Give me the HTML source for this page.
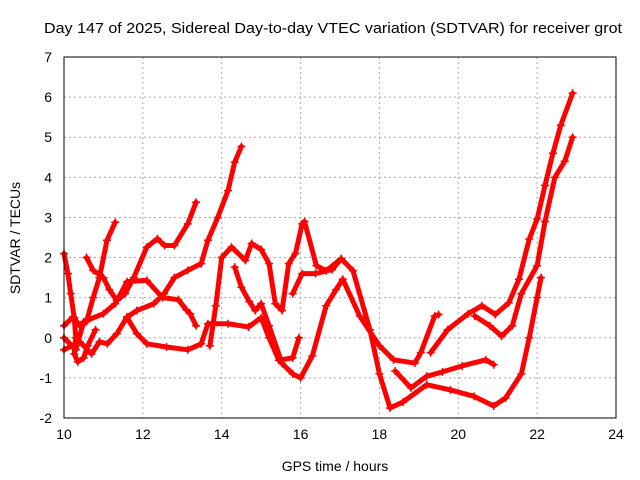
<!DOCTYPE html>
<html><head><meta charset="utf-8"><style>
html,body{margin:0;padding:0;background:#fff;}
svg{display:block;font-family:"Liberation Sans",sans-serif;}
</style></head><body>
<svg id="chart" width="640" height="480" viewBox="0 0 640 480">
<rect width="640" height="480" fill="#fff"/>
<text x="44" y="33" font-size="15" textLength="578" lengthAdjust="spacingAndGlyphs">Day 147 of 2025, Sidereal Day-to-day VTEC variation (SDTVAR) for receiver grot</text>
<text x="335" y="471" font-size="14" text-anchor="middle">GPS time / hours</text>
<text transform="translate(20,238) rotate(-90)" font-size="14" text-anchor="middle">SDTVAR / TECUs</text>
<g id="grid"></g><g id="ticks"></g><g id="series"></g>
<rect x="64" y="57" width="552" height="361" fill="none" stroke="#000" stroke-width="1"/>
</svg>
<script>
const xTicks=[10,12,14,16,18,20,22,24];
const yTicks=[-2,-1,0,1,2,3,4,5,6,7];
const s1=[[10.0,2.1],[10.1,1.6],[10.17,1.1],[10.26,0.5],[10.3,0.0],[10.26,-0.4],[10.35,-0.6],[10.5,-0.5],[10.6,-0.2],[10.8,0.2]];
const s2=[[10.0,0.3],[10.23,0.52],[10.4,0.3],[10.57,0.4],[10.74,1.0],[10.9,1.5],[11.09,2.43],[11.3,2.88]];
const s3=[[10.57,2.0],[10.74,1.68],[11.0,1.5],[11.15,1.2],[11.34,0.93],[11.55,1.1],[11.77,1.5],[12.1,2.26],[12.37,2.47],[12.55,2.3],[12.8,2.3],[13.14,2.84],[13.35,3.38]];
const s4=[[10.0,0.0],[10.3,-0.3],[10.5,0.4],[11.0,0.6],[11.3,0.85],[11.6,1.4],[12.1,1.43],[12.5,1.0],[12.9,0.95],[13.1,0.7],[13.2,0.6],[13.35,0.3]];
const s5=[[10.0,-0.3],[10.4,-0.1],[10.7,-0.4],[10.9,-0.1],[11.1,-0.15],[11.34,0.1],[11.6,0.52],[11.85,0.68],[12.28,0.85],[12.54,1.1],[12.8,1.5],[13.14,1.68],[13.48,1.85],[13.65,2.43],[13.9,3.0],[14.16,3.67],[14.33,4.38],[14.5,4.77]];
const s6=[[11.6,0.5],[11.85,0.1],[12.1,-0.15],[12.6,-0.23],[13.14,-0.3],[13.48,-0.15],[13.65,0.35],[14.16,0.35],[14.68,0.27],[15.0,0.5],[15.2,0.0],[15.45,-0.56],[15.8,-0.5],[15.96,0.0]];
const s7=[[13.7,-0.2],[13.85,0.8],[14.0,2.0],[14.25,2.26],[14.6,1.93],[14.76,2.35],[15.0,2.2],[15.2,1.85],[15.36,0.85],[15.53,0.68],[15.7,1.85],[15.87,2.1],[16.04,2.84],[16.1,2.9],[16.4,1.8],[16.65,1.67],[17.03,1.97],[17.33,1.67],[17.76,0.2],[18.0,-0.9],[18.27,-1.75],[18.6,-1.6],[19.2,-1.17],[19.8,-1.3],[20.4,-1.46],[20.9,-1.7],[21.2,-1.5],[21.6,-0.9],[21.8,0.0],[22.0,1.0],[22.1,1.5]];
const s8=[[14.33,1.76],[14.5,1.26],[14.7,0.9],[14.85,0.68],[15.0,0.85],[15.2,0.3],[15.53,-0.64],[15.8,-0.9],[16.0,-1.0],[16.3,-0.45],[16.65,0.8],[16.9,1.2],[17.07,1.46],[17.5,0.54],[18.0,-0.2],[18.36,-0.55],[18.9,-0.63],[19.05,-0.37],[19.4,0.54],[19.5,0.58]];
const s9=[[18.4,-0.83],[18.8,-1.25],[19.2,-0.96],[19.6,-0.85],[20.1,-0.7],[20.7,-0.55],[20.9,-0.67]];
const s10=[[19.3,-0.37],[19.73,0.2],[20.25,0.6],[20.6,0.8],[20.94,0.58],[21.28,0.87],[21.54,1.46],[21.8,2.46],[22.0,2.96],[22.2,3.8],[22.4,4.6],[22.6,5.3],[22.9,6.1]];
const s11=[[20.42,0.54],[20.8,0.3],[21.1,0.04],[21.37,0.3],[21.6,1.1],[22.0,1.8],[22.2,2.9],[22.45,4.0],[22.7,4.4],[22.9,5.0]];
const s12=[[15.8,1.1],[16.04,1.6],[16.38,1.6],[16.8,1.7],[17.03,1.97]];
const allSeries=[s1,s2,s3,s4,s5,s6,s7,s8,s9,s10,s11,s12];
const X=h=>64+(h-10)*552/14, Y=v=>418-(v+2)*361/9;
const NS='http://www.w3.org/2000/svg';
function mk(t,a,p){const e=document.createElementNS(NS,t);for(const k in a)e.setAttribute(k,a[k]);p.appendChild(e);return e;}
const grid=document.getElementById('grid'),ticks=document.getElementById('ticks'),ser=document.getElementById('series');
xTicks.forEach(t=>{
 const g=mk('line',{x1:X(t),x2:X(t),y1:57,y2:418,stroke:'#aaa','stroke-dasharray':'2,3'},grid);
 
 
 const l=mk('text',{x:X(t),y:439,'font-size':14,'text-anchor':'middle'},ticks);l.textContent=t;
 
 
});
yTicks.forEach(t=>{
 const g=mk('line',{x1:64,x2:616,y1:Y(t),y2:Y(t),stroke:'#aaa','stroke-dasharray':'2,3'},grid);
 
 
 const l=mk('text',{x:52,y:Y(t)+5,'font-size':14,'text-anchor':'end'},ticks);l.textContent=t;
 
 
});
allSeries.forEach((s,i)=>{
 const p=mk('polyline',{points:s.map(d=>X(d[0])+','+Y(d[1])).join(' '),fill:'none',stroke:'#f00','stroke-width':5,'stroke-linejoin':'round','stroke-linecap':'round'},ser);
 
 
 s.forEach(d=>{
  const m=mk('path',{d:`M${X(d[0])-4},${Y(d[1])}h8M${X(d[0])},${Y(d[1])-4}v8`,stroke:'#f00','stroke-width':1.5},ser);
  
  
 });
});
</script>
</body></html>
